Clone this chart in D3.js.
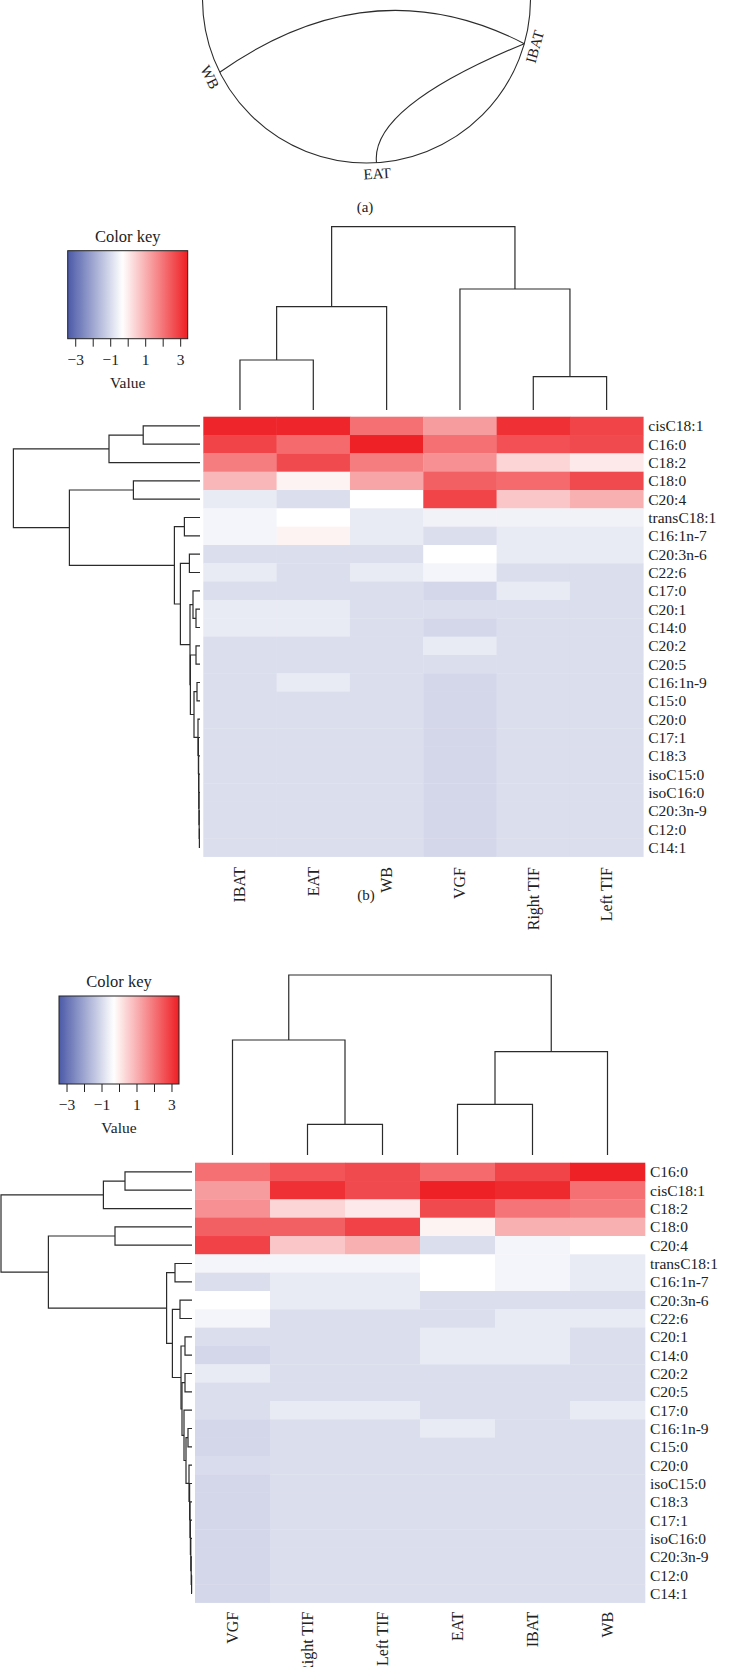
<!DOCTYPE html>
<html>
<head>
<meta charset="utf-8">
<script src="https://cdn.jsdelivr.net/npm/d3@7"></script>
<style>
  body { margin: 0; background: #fff; }
  svg { display: block; font-family: "Liberation Serif", "DejaVu Serif", serif; }
</style>
</head>
<body>
<div id="chart"></div>
<script>
// ---------- panel (a): chord ring ----------
const ringNodes = ["WB", "IBAT", "EAT"];
const ringAngles = [153.5, 15.8, 86.5];          // degrees, 0 = east, clockwise
const ringLinks = [
  // from, to, control point (angle, fraction of radius)
  ["WB", "IBAT", -81, 0.21],
  ["IBAT", "EAT", 88, 0.66]
];

// ---------- shared colour key ----------
const keyTicks = [-3, -2, -1, 0, 1, 2, 3];
const keyLabels = [-3, -1, 1, 3];

// ---------- panel (b) ----------
const colsB = ["IBAT", "EAT", "WB", "VGF", "Right TIF", "Left TIF"];
const rowsB = ["cisC18:1", "C16:0", "C18:2", "C18:0", "C20:4", "transC18:1", "C16:1n-7",
  "C20:3n-6", "C22:6", "C17:0", "C20:1", "C14:0", "C20:2", "C20:5", "C16:1n-9", "C15:0",
  "C20:0", "C17:1", "C18:3", "isoC15:0", "isoC16:0", "C20:3n-9", "C12:0", "C14:1"];
const valuesB = [
  [3.33, 3.33, 2.08, 1.35, 3.15, 2.81],
  [2.81, 2.18, 3.40, 2.08, 2.61, 2.72],
  [1.86, 2.72, 1.86, 1.55, 0.38, 0.07],
  [0.90, -0.10, 1.20, 2.35, 2.18, 2.72],
  [-0.70, -0.93, -0.30, 2.81, 0.65, 1.02],
  [-0.49, -0.30, -0.70, -0.55, -0.55, -0.55],
  [-0.49, -0.10, -0.70, -0.93, -0.70, -0.70],
  [-0.93, -0.93, -0.93, -0.30, -0.70, -0.70],
  [-0.70, -0.93, -0.70, -0.49, -0.93, -0.93],
  [-0.93, -0.93, -0.93, -1.05, -0.70, -0.93],
  [-0.70, -0.70, -0.93, -0.93, -0.93, -0.93],
  [-0.70, -0.70, -0.93, -1.05, -0.93, -0.93],
  [-0.93, -0.93, -0.93, -0.70, -0.93, -0.93],
  [-0.93, -0.93, -0.93, -0.93, -0.93, -0.93],
  [-0.93, -0.70, -0.93, -1.05, -0.93, -0.93],
  [-0.93, -0.93, -0.93, -1.05, -0.93, -0.93],
  [-0.93, -0.93, -0.93, -1.05, -0.93, -0.93],
  [-0.93, -0.93, -0.93, -1.05, -0.93, -0.93],
  [-0.93, -0.93, -0.93, -1.05, -0.93, -0.93],
  [-0.93, -0.93, -0.93, -1.05, -0.93, -0.93],
  [-0.93, -0.93, -0.93, -1.05, -0.93, -0.93],
  [-0.93, -0.93, -0.93, -1.05, -0.93, -0.93],
  [-0.93, -0.93, -0.93, -1.05, -0.93, -0.93],
  [-0.93, -0.93, -0.93, -1.05, -0.93, -0.93]
];
// trees: [height, left, right]
const colTreeB = [5.5, [3.1, [1.5, "IBAT", "EAT"], "WB"], [3.63, "VGF", [1.0, "Right TIF", "Left TIF"]]];
const chainB = [0.10, "C20:0", [0.08, "C17:1", [0.07, "C18:3", [0.06, "isoC15:0",
  [0.05, "isoC16:0", [0.04, "C20:3n-9", [0.03, "C12:0", "C14:1"]]]]]]];
const rowTreeB = [9.33,
  [4.55, [2.84, "cisC18:1", "C16:0"], "C18:2"],
  [6.53, [3.33, "C18:0", "C20:4"],
    [1.28, [0.78, "transC18:1", "C16:1n-7"],
      [0.98, [0.53, "C20:3n-6", "C22:6"],
        [0.5, [0.35, "C17:0", [0.2, "C20:1", "C14:0"]],
          [0.48, [0.2, "C20:2", "C20:5"], [0.3, [0.15, "C16:1n-9", "C15:0"], chainB]]]]]]];

// ---------- panel (c) ----------
const colsC = ["VGF", "Right TIF", "Left TIF", "EAT", "IBAT", "WB"];
const rowsC = ["C16:0", "cisC18:1", "C18:2", "C18:0", "C20:4", "transC18:1", "C16:1n-7",
  "C20:3n-6", "C22:6", "C20:1", "C14:0", "C20:2", "C20:5", "C17:0", "C16:1n-9", "C15:0",
  "C20:0", "isoC15:0", "C18:3", "C17:1", "isoC16:0", "C20:3n-9", "C12:0", "C14:1"];
const valuesC = [
  [2.08, 2.55, 2.72, 2.18, 2.81, 3.40],
  [1.35, 3.15, 2.72, 3.40, 3.25, 2.08],
  [1.55, 0.38, 0.07, 2.72, 2.01, 1.86],
  [2.35, 2.35, 2.84, -0.10, 1.02, 1.02],
  [2.84, 0.65, 1.02, -0.93, -0.49, -0.30],
  [-0.49, -0.49, -0.49, -0.30, -0.49, -0.70],
  [-0.93, -0.70, -0.70, -0.30, -0.49, -0.70],
  [-0.30, -0.70, -0.70, -0.93, -0.93, -0.93],
  [-0.49, -0.93, -0.93, -0.93, -0.70, -0.70],
  [-0.93, -0.93, -0.93, -0.70, -0.70, -0.93],
  [-1.05, -0.93, -0.93, -0.70, -0.70, -0.93],
  [-0.70, -0.93, -0.93, -0.93, -0.93, -0.93],
  [-0.93, -0.93, -0.93, -0.93, -0.93, -0.93],
  [-0.93, -0.70, -0.70, -0.93, -0.93, -0.70],
  [-1.05, -0.93, -0.93, -0.70, -0.93, -0.93],
  [-1.05, -0.93, -0.93, -0.93, -0.93, -0.93],
  [-0.96, -0.93, -0.93, -0.93, -0.93, -0.93],
  [-1.05, -0.93, -0.93, -0.93, -0.93, -0.93],
  [-1.05, -0.93, -0.93, -0.93, -0.93, -0.93],
  [-1.05, -0.93, -0.93, -0.93, -0.93, -0.93],
  [-1.05, -0.93, -0.93, -0.93, -0.93, -0.93],
  [-1.05, -0.93, -0.93, -0.93, -0.93, -0.93],
  [-1.05, -0.93, -0.93, -0.93, -0.93, -0.93],
  [-1.05, -0.93, -0.93, -0.93, -0.93, -0.93]
];
const colTreeC = [5.4, [3.45, "VGF", [0.92, "Right TIF", "Left TIF"]], [3.1, [1.52, "EAT", "IBAT"], "WB"]];
const chainC = [0.15, "C20:0", [0.12, "isoC15:0", [0.10, "C18:3", [0.08, "C17:1",
  [0.06, "isoC16:0", [0.04, "C20:3n-9", [0.02, "C12:0", "C14:1"]]]]]]];
const rowTreeC = [9.55,
  [4.43, [3.35, "C16:0", "cisC18:1"], "C18:2"],
  [7.18, [3.85, "C18:0", "C20:4"],
    [1.27, [0.85, "transC18:1", "C16:1n-7"],
      [0.98, [0.6, "C20:3n-6", "C22:6"],
        [0.55, [0.35, "C20:1", "C14:0"],
          [0.5, [0.35, "C20:2", "C20:5"],
            [0.4, "C17:0", [0.3, [0.2, "C16:1n-9", "C15:0"], chainC]]]]]]]];

// ---------- drawing ----------
const W = 732, H = 1667;
const svg = d3.select("#chart").append("svg")
  .attr("width", W).attr("height", H)
  .attr("viewBox", "0 0 " + W + " " + H);

const ink = "#2b2b2b";
const color = d3.scaleLinear()
  .domain([-3.43, -0.3, 3.43])
  .range(["#4b5aa8", "#ffffff", "#ee1f24"]);

// panel (a)
const ring = { cx: 366.5, cy: -1, r: 164 };
const ga = svg.append("g");
const angle = d3.scaleOrdinal().domain(ringNodes).range(ringAngles);
const polar = (deg, rr) => [ring.cx + rr * Math.cos(deg * Math.PI / 180),
                            ring.cy + rr * Math.sin(deg * Math.PI / 180)];

ga.append("circle")
  .attr("cx", ring.cx).attr("cy", ring.cy).attr("r", ring.r)
  .attr("fill", "none").attr("stroke", ink).attr("stroke-width", 1.1);

ga.selectAll("path.link")
  .data(ringLinks)
  .join("path")
  .attr("class", "link")
  .attr("fill", "none").attr("stroke", ink).attr("stroke-width", 1.1)
  .attr("d", d => {
    const p0 = polar(angle(d[0]), ring.r), p2 = polar(angle(d[1]), ring.r);
    const c = polar(d[2], d[3] * ring.r);
    const p = d3.path();
    p.moveTo(p0[0], p0[1]);
    p.quadraticCurveTo(c[0], c[1], p2[0], p2[1]);
    return p.toString();
  });

ga.selectAll("text.node")
  .data(ringNodes)
  .join("text")
  .attr("class", "node")
  .attr("transform", d => {
    const p = polar(angle(d), ring.r + 11);
    return "translate(" + p[0] + "," + p[1] + ") rotate(" + (angle(d) - 90) + ")";
  })
  .attr("text-anchor", "middle")
  .attr("dominant-baseline", "central")
  .attr("font-size", 15)
  .attr("fill", "#222")
  .text(d => d);

svg.append("text").attr("x", 365).attr("y", 212).attr("text-anchor", "middle")
  .attr("font-size", 15).attr("fill", "#222").text("(a)");
svg.append("text").attr("x", 366).attr("y", 900).attr("text-anchor", "middle")
  .attr("font-size", 15).attr("fill", "#222").text("(b)");

// dendrogram segments in (position, height) space
function dendroSegments(tree, leafPos) {
  const segs = [];
  function rec(n) {
    if (typeof n === "string") return { p: leafPos(n), h: 0 };
    const a = rec(n[1]), b = rec(n[2]);
    const h = n[0];
    segs.push([[a.p, a.h], [a.p, h], [b.p, h], [b.p, b.h]]);
    return { p: (a.p + b.p) / 2, h: h };
  }
  rec(tree);
  return segs;
}

function drawPanel(P) {
  const g = svg.append("g");
  const x = d3.scaleBand().domain(P.cols).range([P.x0, P.x0 + P.cols.length * P.cw]);
  const y = d3.scaleBand().domain(P.rows).range([P.y0, P.y0 + P.rows.length * P.rh]);

  const cells = P.rows.flatMap((r, i) => P.cols.map((c, j) => ({ r: r, c: c, v: P.values[i][j] })));
  g.append("g").selectAll("rect")
    .data(cells)
    .join("rect")
    .attr("x", d => x(d.c)).attr("y", d => y(d.r))
    .attr("width", x.bandwidth() + 0.3).attr("height", y.bandwidth() + 0.3)
    .attr("fill", d => color(d.v));

  g.append("g").selectAll("text")
    .data(P.rows)
    .join("text")
    .attr("x", x.range()[1] + 5)
    .attr("y", d => y(d) + y.bandwidth() / 2)
    .attr("dominant-baseline", "central")
    .attr("font-size", 15.5).attr("fill", "#222")
    .text(d => d);

  g.append("g").selectAll("text")
    .data(P.cols)
    .join("text")
    .attr("transform", d => "translate(" + (x(d) + x.bandwidth() / 2) + "," + P.colLabelTop + ") rotate(-90)")
    .attr("text-anchor", "end")
    .attr("dominant-baseline", "central")
    .attr("font-size", 16).attr("fill", "#222")
    .text(d => d);

  // column dendrogram
  const hCol = d3.scaleLinear().domain([0, 1]).range([P.colLeafY, P.colLeafY - 33.33]);
  const line = d3.line();
  g.append("g").selectAll("path")
    .data(dendroSegments(P.colTree, c => x(c) + x.bandwidth() / 2))
    .join("path")
    .attr("fill", "none").attr("stroke", ink).attr("stroke-width", 1.2)
    .attr("d", s => line(s.map(q => [q[0], hCol(q[1])])));

  // row dendrogram
  const hRow = d3.scaleLinear().domain([0, 1]).range([P.rowLeafX, P.rowLeafX - 20]);
  g.append("g").selectAll("path")
    .data(dendroSegments(P.rowTree, r => y(r) + y.bandwidth() / 2))
    .join("path")
    .attr("fill", "none").attr("stroke", ink).attr("stroke-width", 1.2)
    .attr("d", s => line(s.map(q => [hRow(q[1]), q[0]])));

  // colour key
  const kx = d3.scaleLinear().domain([-3.43, 3.43]).range([P.keyX, P.keyX + 120]);
  const gradId = "grad" + P.id;
  const grad = svg.append("defs").append("linearGradient").attr("id", gradId)
    .attr("x1", "0%").attr("x2", "100%").attr("y1", "0%").attr("y2", "0%");
  grad.selectAll("stop")
    .data(d3.range(0, 1.0001, 0.02))
    .join("stop")
    .attr("offset", t => (t * 100) + "%")
    .attr("stop-color", t => color(kx.invert(P.keyX + t * 120)));

  const kg = g.append("g");
  kg.append("rect")
    .attr("x", P.keyX).attr("y", P.keyY).attr("width", 120).attr("height", 88)
    .attr("fill", "url(#" + gradId + ")").attr("stroke", "#222").attr("stroke-width", 1);
  kg.append("text").attr("x", P.keyX + 60).attr("y", P.keyY - 9)
    .attr("text-anchor", "middle").attr("font-size", 16.5).attr("fill", "#222").text("Color key");
  const axis = d3.axisBottom(kx)
    .tickValues(keyTicks)
    .tickSize(8).tickPadding(7)
    .tickFormat(d => keyLabels.includes(d) ? d3.format("d")(d) : "");
  const ax = kg.append("g").attr("transform", "translate(0," + (P.keyY + 88) + ")").call(axis);
  ax.select(".domain").remove();
  ax.selectAll("line").attr("stroke", "#222");
  ax.selectAll("text").attr("font-size", 15.5).attr("fill", "#222")
    .attr("font-family", "Liberation Serif, serif");
  kg.append("text").attr("x", P.keyX + 60).attr("y", P.keyY + 88 + 49)
    .attr("text-anchor", "middle").attr("font-size", 15.5).attr("fill", "#222").text("Value");
}

drawPanel({
  id: "b", cols: colsB, rows: rowsB, values: valuesB, colTree: colTreeB, rowTree: rowTreeB,
  x0: 203.3, cw: 73.33, y0: 416.7, rh: 18.33, colLeafY: 410, rowLeafX: 200,
  colLabelTop: 867, keyX: 67.7, keyY: 250.7
});
drawPanel({
  id: "c", cols: colsC, rows: rowsC, values: valuesC, colTree: colTreeC, rowTree: rowTreeC,
  x0: 195, cw: 75, y0: 1162.7, rh: 18.33, colLeafY: 1155, rowLeafX: 192,
  colLabelTop: 1611.7, keyX: 59, keyY: 996
});
</script>
</body>
</html>
